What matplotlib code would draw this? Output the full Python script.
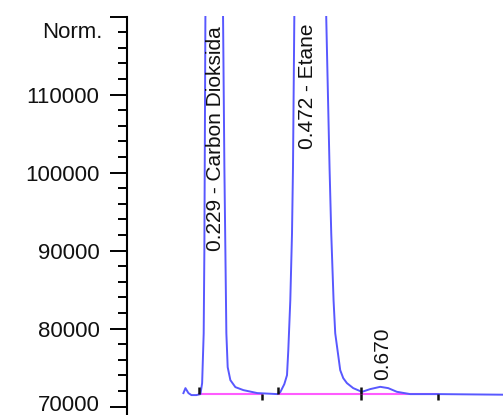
import numpy as np
import matplotlib
matplotlib.use('Agg')
import matplotlib.pyplot as plt
import matplotlib.transforms as mtransforms

# Chromatogram trace (retention time in min, detector response in Norm.)
time_min = [0.1448, 0.1501, 0.1580, 0.1659, 0.1791, 0.1897, 0.1942, 0.1983, 0.2001, 0.2028,
            0.229,
            0.2495, 0.2530, 0.2556, 0.2582, 0.2617, 0.2688, 0.2820, 0.3031, 0.3400, 0.3928,
            0.4007, 0.4060, 0.4113, 0.4184, 0.4218, 0.4271, 0.4316, 0.4342, 0.4377,
            0.472,
            0.5221, 0.5308, 0.5353, 0.5414, 0.5458, 0.5590, 0.5670, 0.5767, 0.5933, 0.6118,
            0.6144, 0.6382, 0.6646, 0.6857, 0.7086, 0.7437, 0.8176, 0.9020, 0.9891]
signal = [71737, 72375, 71737, 71481, 71481, 71609, 73014, 79399, 90000, 119752,
          200000,
          119752, 100597, 90000, 79399, 75057, 73397, 72503, 72120, 71737, 71609,
          71865, 72375, 72886, 74035, 77228, 83613, 92169, 100597, 119752,
          300000,
          119752, 100597, 92169, 83613, 79399, 74674, 73652, 73014, 72375, 71992,
          71865, 72248, 72541, 72375, 71903, 71609, 71609, 71571, 71532]

# peak labels
peak_rt = [0.229, 0.472, 0.670]
peak_names = ['0.229 - Carbon Dioksida', '0.472 - Etane', '0.670']
label_base = [90000, 103000, 73400]

# integration baselines (start, end) and their levels
base_start = [0.1870, 0.3954, 0.6144]
base_end = [0.3532, 0.6144, 0.8176]
base_level = [71600, 71600, 71600]
start_ticks = [0.1870, 0.3954, 0.6144]
end_ticks = [0.3532, 0.6144, 0.8176]

yticks = [70000, 80000, 90000, 100000, 110000, 120000]
ytick_labels = ['70000', '80000', '90000', '100000', '110000', '']

plt.rcParams['font.family'] = ['Liberation Sans', 'DejaVu Sans']

fig = plt.figure(figsize=(5.03, 4.15), dpi=100)
ax = fig.add_axes([126.5 / 503, 0, (503 - 126.5) / 503, 398.5 / 415])

ax.plot(time_min, signal, color='#5858ff', lw=1.4, zorder=3,
        solid_joinstyle='round')

for s, e, b in zip(base_start, base_end, base_level):
    ax.plot([s, e], [b, b], color='#ff5cff', lw=1.5, zorder=2)

ax.vlines(start_ticks, 71600, 72500, color='#111111', lw=1.8, zorder=4)
ax.vlines(end_ticks, 70900, 71600, color='#111111', lw=1.8, zorder=4)

for rt, name, yb in zip(peak_rt, peak_names, label_base):
    ax.text(rt, yb, name, rotation=90, ha='center', va='bottom',
            fontsize=15, color='#111111', zorder=5)

ax.set_xlim(-0.0056, 0.989)
ax.set_ylim(68930, 120000)

for side in ['top', 'right', 'bottom']:
    ax.spines[side].set_visible(False)
ax.spines['left'].set_linewidth(1.5)
ax.set_xticks([])
ax.set_yticks(yticks)
ax.set_yticklabels(ytick_labels)
ax.set_yticks(np.arange(70000, 120001, 2000), minor=True)
ax.tick_params(axis='y', which='major', direction='out', length=12.5, width=1.4,
               pad=7, labelsize=16, labelcolor='#111111')
ax.tick_params(axis='y', which='minor', direction='out', length=6.2, width=1.4)

# lowest label sits on the bottom edge: nudge it up a little so it stays inside
lowest = ax.get_yticklabels()[0]
lowest.set_transform(lowest.get_transform() +
                     mtransforms.ScaledTranslation(0, 4 / 100, fig.dpi_scale_trans))

trans = mtransforms.blended_transform_factory(ax.transAxes, ax.transData)
ax.text(-0.064, 118000, 'Norm.', transform=trans, ha='right', va='center',
        fontsize=16, color='#111111')

fig.savefig('out.png', dpi=100)
